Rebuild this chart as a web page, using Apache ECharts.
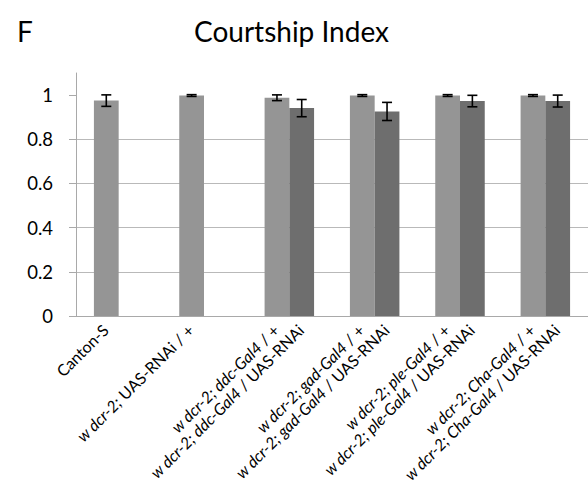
<!DOCTYPE html>
<html>
<head>
<meta charset="utf-8">
<script src="https://cdn.jsdelivr.net/npm/echarts@6/dist/echarts.min.js"></script>
<style>
  html, body { margin: 0; padding: 0; background: #fff; }
  #chart { width: 588px; height: 486px; }
</style>
</head>
<body>
<div id="chart"></div>
<script>
// Genotype groups along the x axis
const groups = ['Canton-S', 'UAS-RNAi', 'ddc-Gal4', 'gad-Gal4', 'ple-Gal4', 'Cha-Gal4'];

// Control flies (light bars): mean courtship index and error
const controlMean = [0.975, 0.998, 0.988, 0.998, 0.998, 0.998];
const controlErr  = [0.026, 0.004, 0.013, 0.004, 0.004, 0.004];

// Knockdown flies (dark bars): mean courtship index and error
const knockdownMean = [null, null, 0.941, 0.926, 0.973, 0.973];
const knockdownErr  = [null, null, 0.039, 0.041, 0.026, 0.027];

// Per-bar genotype labels; {i|...} marks italic gene names
const controlLabels = [
  'Canton-S',
  '{i|w dcr-2;} UAS-RNAi / +',
  '{i|w dcr-2; ddc-Gal4} / +',
  '{i|w dcr-2; gad-Gal4} / +',
  '{i|w dcr-2; ple-Gal4} / +',
  '{i|w dcr-2; Cha-Gal4} / +'
];
const knockdownLabels = [
  null,
  null,
  '{i|w dcr-2; ddc-Gal4} / UAS-RNAi',
  '{i|w dcr-2; gad-Gal4} / UAS-RNAi',
  '{i|w dcr-2; ple-Gal4} / UAS-RNAi',
  '{i|w dcr-2; Cha-Gal4} / UAS-RNAi'
];

// Y axis tick values
const yTicks = [0, 0.2, 0.4, 0.6, 0.8, 1];

const FONT = 'Lato';
const LABEL_SIZE = 16;
const BAR_FRACTION = 0.29;  // bar width as a share of the category band
const LIGHT = '#959595';
const DARK = '#6e6e6e';

// slot 0 = control bar, slot 1 = knockdown bar
const errData = [];
const labelData = [];
groups.forEach((g, i) => {
  if (controlMean[i] != null) errData.push([i, controlMean[i], controlErr[i], 0]);
  if (knockdownMean[i] != null) errData.push([i, knockdownMean[i], knockdownErr[i], 1]);
  if (controlLabels[i] != null) labelData.push([i, 0, 0]);
  if (knockdownLabels[i] != null) labelData.push([i, 0, 1]);
});

function slotOffset(api, slot) {
  const band = api.size([1, 0])[0];
  const w = band * BAR_FRACTION;
  return (slot - 0.5) * w;
}

const chart = echarts.init(document.getElementById('chart'), null, { renderer: 'svg' });

chart.setOption({
  animation: false,
  textStyle: { fontFamily: FONT },
  title: [
    { text: 'F', left: 12, top: 12, textStyle: { fontFamily: FONT, fontSize: 28, fontWeight: 'normal', color: '#000' } },
    { text: 'Courtship Index', left: 189, top: 12, textStyle: { fontFamily: FONT, fontSize: 28, fontWeight: 'normal', color: '#000' } }
  ],
  grid: { left: 76, right: -4, top: 73, bottom: 170, containLabel: false },
  xAxis: {
    type: 'category',
    data: groups,
    axisLine: { show: true, lineStyle: { color: '#a9a9a9', width: 1 } },
    axisTick: { show: false },
    axisLabel: { show: false },
    splitLine: { show: false }
  },
  yAxis: {
    type: 'value',
    min: 0,
    max: 1.1,
    interval: 0.2,
    axisLine: { show: true, lineStyle: { color: '#a9a9a9', width: 1 } },
    axisTick: { show: true, length: 7, inside: false, customValues: yTicks, lineStyle: { color: '#a9a9a9' } },
    axisLabel: {
      customValues: yTicks,
      fontSize: 18.5,
      color: '#000',
      margin: 23,
      fontFamily: FONT
    },
    splitLine: { show: true, showMaxLine: false, lineStyle: { color: '#b9b9b9', width: 1 } }
  },
  series: [
    {
      name: 'control',
      type: 'bar',
      data: controlMean,
      barWidth: (BAR_FRACTION * 100) + '%',
      barGap: '0%',
      itemStyle: { color: LIGHT }
    },
    {
      name: 'knockdown',
      type: 'bar',
      data: knockdownMean,
      barWidth: (BAR_FRACTION * 100) + '%',
      barGap: '0%',
      itemStyle: { color: DARK }
    },
    {
      name: 'error',
      type: 'custom',
      data: errData,
      z: 10,
      renderItem: function (params, api) {
        const idx = api.value(0);
        const mean = api.value(1);
        const err = api.value(2);
        const slot = api.value(3);
        const dx = slotOffset(api, slot);
        const hi = api.coord([idx, mean + err]);
        const lo = api.coord([idx, mean - err]);
        const x = hi[0] + dx;
        const cap = 5;
        const style = { stroke: '#000', lineWidth: 1.6 };
        return {
          type: 'group',
          children: [
            { type: 'line', shape: { x1: x, y1: hi[1], x2: x, y2: lo[1] }, style: style },
            { type: 'line', shape: { x1: x - cap, y1: hi[1], x2: x + cap, y2: hi[1] }, style: style },
            { type: 'line', shape: { x1: x - cap, y1: lo[1], x2: x + cap, y2: lo[1] }, style: style }
          ]
        };
      }
    },
    {
      name: 'labels',
      type: 'custom',
      data: labelData,
      z: 10,
      renderItem: function (params, api) {
        const idx = api.value(0);
        const slot = api.value(2);
        const base = api.coord([idx, 0]);
        const dx = slotOffset(api, slot);
        const text = slot === 0 ? controlLabels[idx] : knockdownLabels[idx];
        return {
          type: 'text',
          x: base[0] + dx - 1,
          y: base[1] + 11,
          rotation: Math.PI / 4,
          style: {
            text: text,
            fontFamily: FONT,
            fontSize: LABEL_SIZE,
            fill: '#000',
            align: 'right',
            verticalAlign: 'middle',
            rich: {
              i: { fontFamily: FONT, fontSize: LABEL_SIZE, fontStyle: 'italic', fill: '#000' }
            }
          }
        };
      }
    }
  ]
});
</script>
</body>
</html>
